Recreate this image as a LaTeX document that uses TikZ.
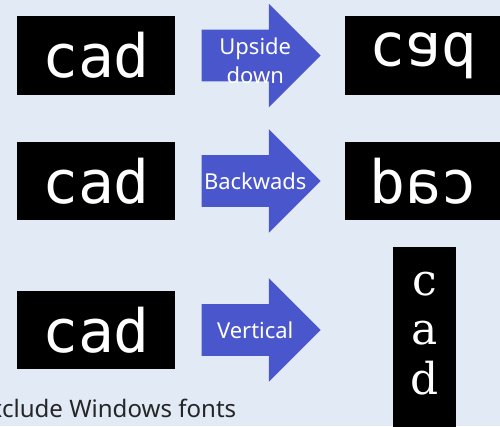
\documentclass[tikz,border=0pt]{standalone}
\usepackage{fontspec}
\usepackage{graphicx}
\setmainfont{Noto Sans}
\newfontfamily\boxmono{DejaVu Sans Mono}
\newfontfamily\tallserif{DejaVu Serif}
\usetikzlibrary{positioning,calc,shapes.arrows}
\definecolor{slidebg}{RGB}{225,234,245}
\definecolor{arrowblue}{RGB}{74,86,204}
\tikzset{
    word box/.style = {
        fill = black,
        text = white,
        minimum width = 3.16cm,
        minimum height = 1.58cm,
        inner sep = 0pt,
        font = \boxmono\fontsize{34}{34}\selectfont,
        },
    tall box/.style = {
        fill = black,
        text = white,
        minimum width = 1.26cm,
        inner xsep = 0pt,
        inner ysep = 0.5cm,
        text depth = 1cm,
        align = center,
        font = \tallserif\fontsize{25}{28}\selectfont,
        },
    flip arrow/.style = {
        single arrow,
        fill = arrowblue,
        minimum height = 2.38cm,
        minimum width = 2.06cm,
        single arrow head extend = 0.52cm,
        single arrow tip angle = 90,
        inner xsep = 0pt,
        inner ysep = 0.51cm,
        },
    flip label/.style = {
        text = white,
        align = center,
        font = \fontsize{12.5}{16.5}\selectfont,
        },
    note/.style = {
        text = black!85,
        inner sep = 0pt,
        font = \fontsize{13.7}{16}\selectfont,
        },
}

\begin{document}
\begin{tikzpicture}[x=0.02cm, y=-0.02cm]
    \useasboundingbox (0,0) rectangle (500,426);
    \fill[slidebg] (0,0) rectangle (500,426);
    \clip (0,0) rectangle (500,426);

    \node[word box] (L1) at (96,55.5) {cad};
    \node[word box] (L2) at (96,181) {cad};
    \node[word box] (L3) at (96,330) {cad};

    \node[flip arrow, right=0.52cm of L1, anchor=tail] (A1) {};
    \node[flip arrow, right=0.52cm of L2, anchor=tail] (A2) {};
    \node[flip arrow, right=0.52cm of L3, anchor=tail] (A3) {};

    \node[flip label] (T1) at ($(A1.tail)!0.45!(A1.tip)+(0,5)$) {Upside\\down};
    \node[flip label] (T2) at ($(A2.tail)!0.45!(A2.tip)$) {Backwads};
    \node[flip label] (T3) at ($(A3.tail)!0.45!(A3.tip)$) {Vertical};

    \node[word box, right=0.46cm of A1.tip] (R1) {\scalebox{1}[-1]{cad}};
    \node[word box, right=0.46cm of A2.tip] (R2) {\reflectbox{cad}};
    \node[tall box, anchor=north] (R3) at (424.5,247) {c\\a\\d};

    \node[note, anchor=base west] (N) at (-24,417) {Exclude Windows fonts};
\end{tikzpicture}
\end{document}
